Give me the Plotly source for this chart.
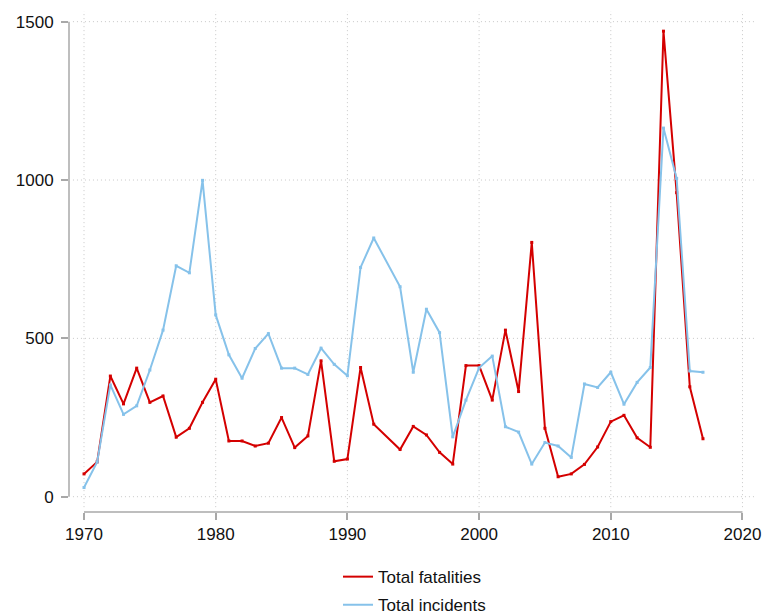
import plotly.graph_objects as go

# Annual totals (no observations recorded for 1993)
years = [1970, 1971, 1972, 1973, 1974, 1975, 1976, 1977, 1978, 1979,
         1980, 1981, 1982, 1983, 1984, 1985, 1986, 1987, 1988, 1989,
         1990, 1991, 1992, 1994, 1995, 1996, 1997, 1998, 1999,
         2000, 2001, 2002, 2003, 2004, 2005, 2006, 2007, 2008, 2009,
         2010, 2011, 2012, 2013, 2014, 2015, 2016, 2017]

fatalities = [72, 110, 381, 293, 406, 298, 318, 188, 216, 298,
              371, 176, 176, 160, 169, 250, 155, 192, 429, 112,
              119, 408, 229, 149, 222, 195, 140, 103, 414,
              414, 305, 526, 332, 803, 216, 63, 72, 102, 157,
              237, 257, 186, 156, 1470, 960, 347, 183]

incidents = [29, 110, 353, 260, 287, 400, 526, 729, 707, 999,
             574, 448, 374, 468, 515, 406, 406, 386, 469, 418,
             382, 724, 817, 663, 393, 592, 518, 189, 305,
             407, 444, 221, 204, 103, 171, 160, 124, 356, 345,
             393, 292, 361, 408, 1164, 1005, 397, 393]

x_ticks = [1970, 1980, 1990, 2000, 2010, 2020]
y_ticks = [0, 500, 1000, 1500]

RED = "#d40000"
BLUE = "#86c2ea"
AXIS_GREY = "#a8a8a8"
GRID_GREY = "#c8c8c8"

x_range = [1968.86, 2021.33]
y_range = [-48.3, 1533.7]

fig = go.Figure()
for name, values, color in [("Total fatalities", fatalities, RED),
                            ("Total incidents", incidents, BLUE)]:
    # line carries the legend entry; the small point markers are drawn on top
    fig.add_trace(go.Scatter(
        x=years, y=values, name=name, mode="lines", legendgroup=name,
        line=dict(color=color, width=2),
    ))
    fig.add_trace(go.Scatter(
        x=years, y=values, name=name, mode="markers", legendgroup=name,
        showlegend=False, marker=dict(color=color, size=3, symbol="square"),
    ))

shapes = []
# dotted grid, kept slightly clear of the axis lines
for yv in y_ticks:
    shapes.append(dict(type="line", xref="x", yref="y", x0=1969.16, x1=2021.0,
                       y0=yv, y1=yv, line=dict(color=GRID_GREY, width=1, dash="1px,3px"),
                       layer="below"))
for xv in x_ticks:
    shapes.append(dict(type="line", xref="x", yref="y", x0=xv, x1=xv,
                       y0=-33, y1=y_range[1], line=dict(color=GRID_GREY, width=1, dash="1px,3px"),
                       layer="below"))
# axis lines spanning only the labelled range
shapes.append(dict(type="line", xref="paper", yref="y", x0=0, x1=0,
                   y0=y_ticks[0], y1=y_ticks[-1], line=dict(color=AXIS_GREY, width=1.5)))
shapes.append(dict(type="line", xref="x", yref="paper", x0=x_ticks[0], x1=x_ticks[-1],
                   y0=0, y1=0, line=dict(color=AXIS_GREY, width=1.5)))

fig.update_layout(
    width=768, height=615,
    margin=dict(l=69, r=8, t=11, b=103, autoexpand=False),
    paper_bgcolor="white", plot_bgcolor="white",
    font=dict(family="Liberation Sans, Arial, sans-serif", size=17, color="#111111"),
    shapes=shapes,
    showlegend=True,
    legend=dict(orientation="v", x=0.5, xanchor="center", y=-0.094, yanchor="top",
                traceorder="grouped", tracegroupgap=3,
                font=dict(size=17), bgcolor="rgba(0,0,0,0)"),
    xaxis=dict(range=x_range, tickvals=x_ticks, showgrid=False, zeroline=False,
               showline=False, ticks="outside", ticklen=7, tickwidth=1.5,
               tickcolor=AXIS_GREY, fixedrange=True),
    yaxis=dict(range=y_range, tickvals=y_ticks, showgrid=False, zeroline=False,
               showline=False, ticks="outside", ticklen=7, tickwidth=1.5,
               tickcolor=AXIS_GREY, ticklabelstandoff=4, fixedrange=True),
)

fig.write_html("out.html")
